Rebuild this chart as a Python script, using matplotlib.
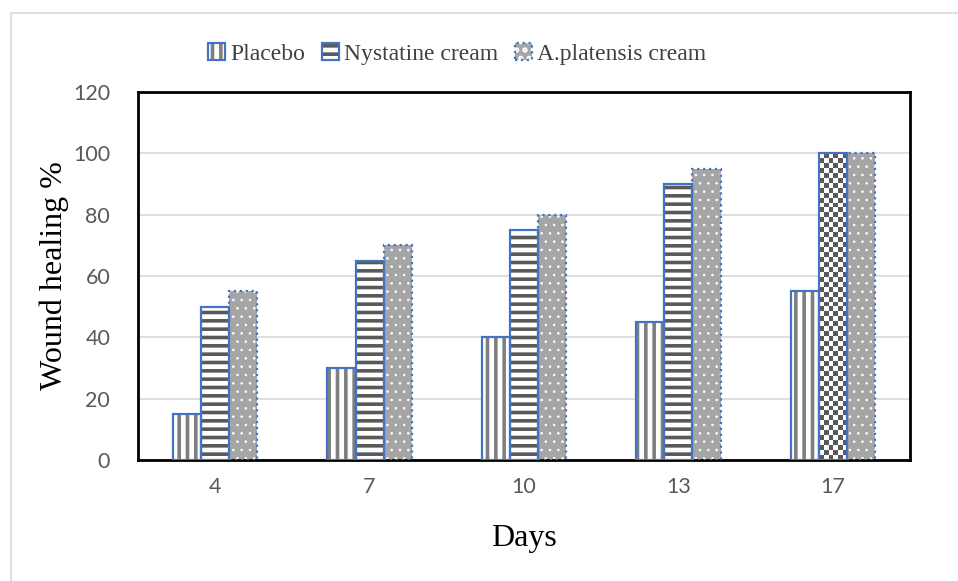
import matplotlib.pyplot as plt
import matplotlib.patches as mpatches
import numpy as np

days = ["4", "7", "10", "13", "17"]
placebo = [15, 30, 40, 45, 55]
nystatine = [50, 65, 75, 90, 100]
platensis = [55, 70, 80, 95, 100]

blue = "#4472C4"
plt.rcParams["hatch.linewidth"] = 2.6

fig = plt.figure(figsize=(9.58, 5.81), dpi=100)
ax = fig.add_axes([138 / 958, 121 / 581, 772 / 958, 368 / 581])

x = np.arange(len(days))
w = 0.182


def hatched(xs, vals, face, hcol, hatch, ls="-", hlw=None):
    bars = ax.bar(xs, vals, w, color=face, edgecolor=hcol, hatch=hatch,
                  linewidth=0, zorder=2)
    if hlw is not None:
        for b in bars:
            if hasattr(b, "set_hatch_linewidth"):
                b.set_hatch_linewidth(hlw)
    ax.bar(xs, vals, w, fill=False, edgecolor=blue, linewidth=1.6,
           linestyle=ls, zorder=3)
    return bars


hatched(x - w, placebo, "white", "#7F7F7F", "||")
nys = hatched(x, nystatine, "white", "#595959", "--")
hatched(x + w, platensis, "#A5A5A5", "white", "..", ls=":", hlw=0.6)

# checkerboard fill for the last nystatine bar
last = nys[-1]
last.set_hatch(None)
bx, bw, bh = last.get_x(), last.get_width(), last.get_height()
checker = np.indices((62, 6)).sum(axis=0) % 2
ax.imshow(checker, cmap=plt.matplotlib.colors.ListedColormap(["white", "#595959"]),
          extent=(bx, bx + bw, 0, bh), aspect="auto", interpolation="nearest",
          clip_path=last, zorder=2.5)

ax.set_xlim(-0.5, len(days) - 0.5)
ax.set_ylim(0, 120)
ax.set_yticks(range(0, 121, 20))
ax.set_xticks(x)
ax.set_xticklabels(days)
ax.tick_params(length=0, labelsize=15.5, labelcolor="#595959", pad=12)
for lab in ax.get_xticklabels() + ax.get_yticklabels():
    lab.set_family("Lato")
ax.tick_params(axis="y", pad=20)
ax.grid(axis="y", color="#D9D9D9", linewidth=1.2, zorder=0)
ax.set_axisbelow(True)
for s in ax.spines.values():
    s.set_linewidth(2)
    s.set_color("black")

ax.set_xlabel("Days", family="Liberation Serif", fontsize=23, labelpad=20)
ax.set_ylabel("Wound healing %", family="Liberation Serif", fontsize=23, labelpad=3)


def legend_handle(face, hcol, hatch, ls="-"):
    inner = mpatches.Patch(facecolor=face, edgecolor=hcol, hatch=hatch, linewidth=0)
    border = mpatches.Patch(fill=False, edgecolor=blue, linewidth=1.6, linestyle=ls)
    return (inner, border)


handles = [legend_handle("white", "#7F7F7F", "||"),
           legend_handle("white", "#595959", "--"),
           legend_handle("#A5A5A5", "white", "..", ls=":")]
leg = fig.legend(handles, ["Placebo", "Nystatine cream", "A.platensis cream"],
                 loc="center", bbox_to_anchor=(457 / 958, 1 - 54 / 581), ncol=3,
                 frameon=False, handlelength=0.75, handleheight=0.75,
                 handletextpad=0.2, columnspacing=0.7,
                 prop={"family": "Liberation Serif", "size": 17})
for t in leg.get_texts():
    t.set_color("#404040")

fig.patches.append(mpatches.Rectangle((11 / 958, -0.1), 1.2, 1.1 - 13 / 581,
                                      transform=fig.transFigure, fill=False,
                                      edgecolor="#D9D9D9", linewidth=1.2))

fig.savefig("out.png", dpi=100)
